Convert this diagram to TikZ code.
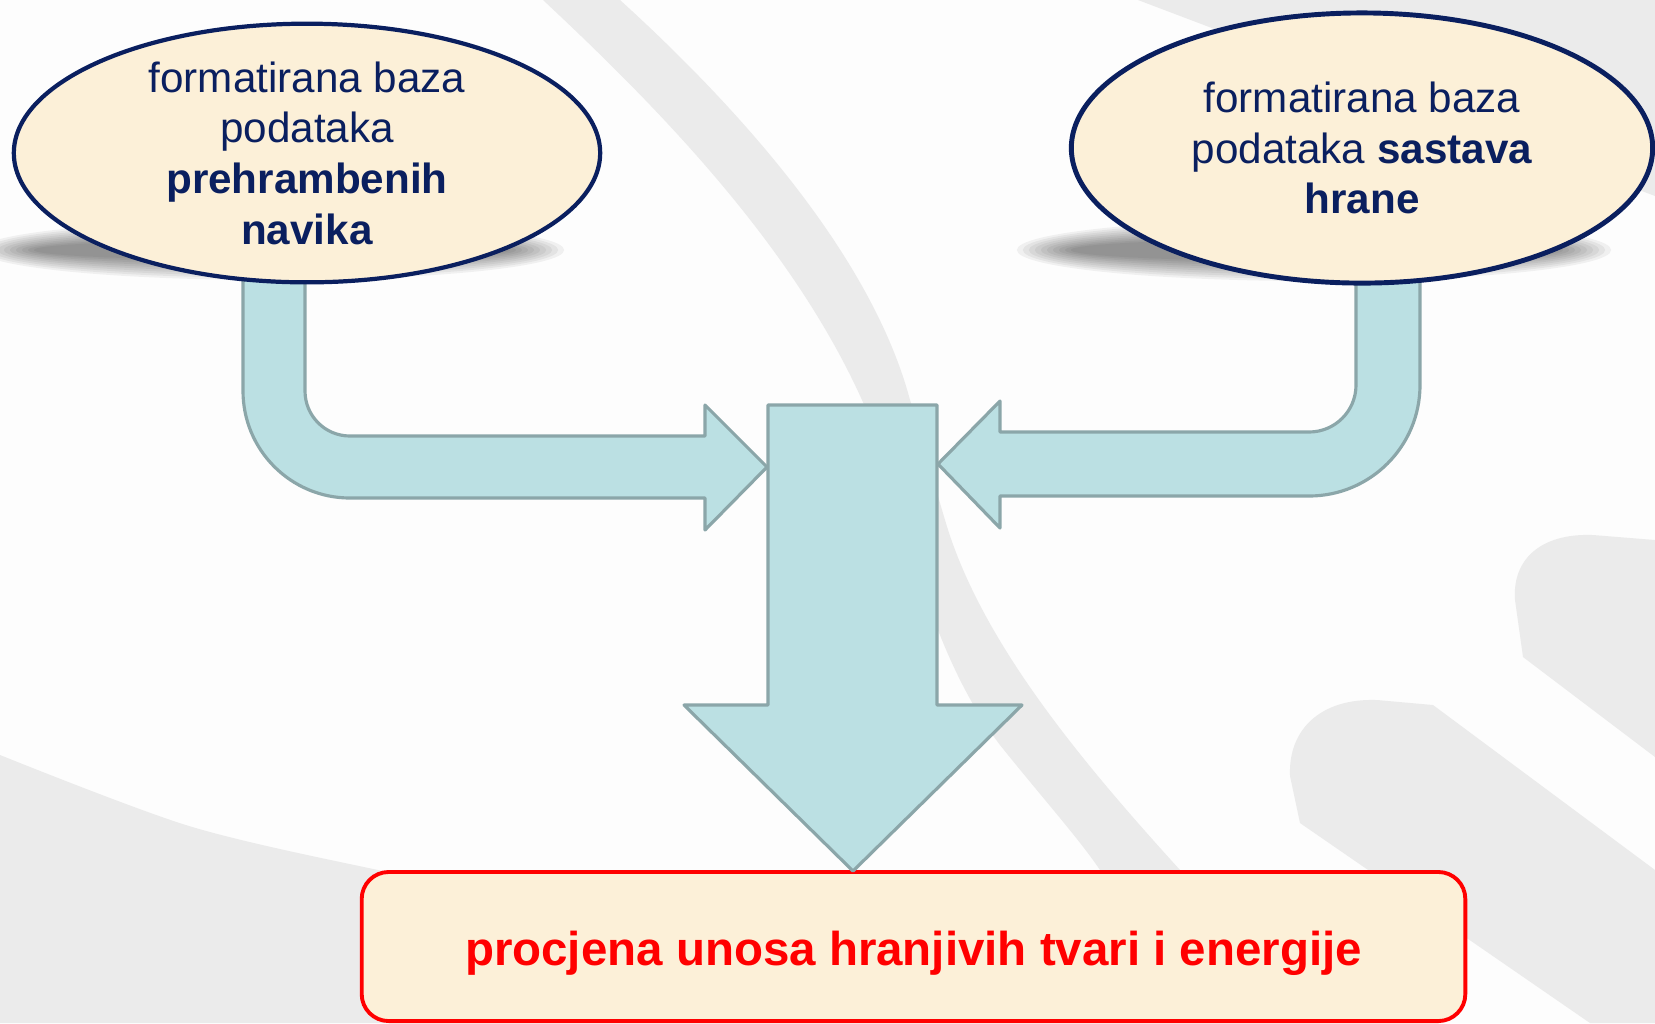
\documentclass[tikz,border=0pt]{standalone}
\usepackage{fontspec}
\setmainfont{Liberation Sans}
\usetikzlibrary{shapes.geometric}
\definecolor{navy}{HTML}{0A1F5F}
\definecolor{cream}{HTML}{FCF0D8}
\definecolor{wm}{HTML}{EBEBEB}
\definecolor{afill}{HTML}{BBE0E3}
\definecolor{aline}{HTML}{8BA6A9}
\definecolor{bg}{HTML}{FDFDFD}
\tikzset{
  blockarrow/.style={fill=afill, draw=aline, line width=0.9pt, line join=round},
  oval/.style={ellipse, draw=navy, fill=cream, line width=1.2pt, inner sep=0pt,
    align=center, text=navy, font=\fontsize{12}{14.4}\selectfont},
  resbox/.style={draw=red, fill=cream, line width=1.1pt, rounded corners=0.27cm,
    minimum width=11.03cm, minimum height=1.49cm, text=red,
    font=\fontsize{13.5}{16}\selectfont\bfseries},
  wmark/.style={fill=wm},
  shadowlayer/.style={fill=black, opacity=0.05},
}
\begin{document}
\begin{tikzpicture}[x=0.01cm, y=-0.01cm]
  % page
  \fill[bg] (0,0) rectangle (1655,1023);
  \useasboundingbox (0,0) rectangle (1655,1023);

  % watermark shapes
  \fill[wmark] (543,0) .. controls (650,100) and (790,240) .. (862,400)
     .. controls (900,485) and (920,640) .. (1000,745)
     .. controls (1040,795) and (1080,840) .. (1100,870)
     -- (1160,1023) -- (1320,1023) -- (1180,870)
     .. controls (1080,760) and (980,640) .. (945,520)
     .. controls (930,470) and (920,430) .. (910,400)
     .. controls (870,250) and (730,100) .. (620,0) -- cycle;
  \fill[wmark] plot[smooth] coordinates {(0,755) (189,826) (378,870) (560,905)} -- (560,1023) -- (0,1023) -- cycle;
  \fill[wmark] (1138,0) -- (1655,0) -- (1655,196) -- cycle;
  \fill[wmark] (1655,540) -- (1593,535) .. controls (1540,533) and (1512,560) .. (1515,600) -- (1523,657) -- (1655,757) -- cycle;
  \fill[wmark] (1433,705) -- (1377,700) .. controls (1320,698) and (1288,730) .. (1290,776) -- (1300,823) -- (1590,1023) -- (1655,1023) -- (1655,870) -- cycle;

  % shadows of the ovals
  \foreach \i in {0,...,9} {
    \fill[shadowlayer] (272,250) ellipse [x radius={2.92cm-0.06cm*\i}, y radius={0.30cm-0.022cm*\i}];
    \fill[shadowlayer] (1314,250) ellipse [x radius={2.97cm-0.06cm*\i}, y radius={0.31cm-0.022cm*\i}];
  }

  % bent block arrows
  \draw[blockarrow] (243,278) -- (305,278) -- (305,391)
     .. controls (305,415.9) and (325.1,436) .. (350,436)
     -- (705,436) -- (705,405) -- (767,467) -- (705,530) -- (705,498) -- (350,498)
     .. controls (290.9,498) and (243,450.1) .. (243,391) -- cycle;
  \draw[blockarrow] (1356,280) -- (1420,280) -- (1420,385)
     .. controls (1420,446.3) and (1370.3,496) .. (1309,496)
     -- (1000,496) -- (1000,528) -- (938,464) -- (1000,401) -- (1000,432) -- (1309,432)
     .. controls (1335,432) and (1356,411) .. (1356,385) -- cycle;

  % ovals
  \node[oval, minimum width=5.86cm, minimum height=2.54cm] (e1) at (307,153)
    {formatirana baza\\podataka\\\textbf{prehrambenih}\\\textbf{navika}};
  \node[oval, line width=1.4pt, minimum width=5.81cm, minimum height=2.70cm] (e2) at (1362,148)
    {formatirana baza\\podataka \textbf{sastava}\\\textbf{hrane}};

  % result box
  \node[resbox] (res) at (913.5,946.5) {\raisebox{-2pt}[\height][\depth]{procjena unosa hranjivih tvari i energije}};

  % central down arrow
  \draw[blockarrow] (768,405) -- (937,405) -- (937,705) -- (1022,705) -- (853,871)
     -- (684,705) -- (768,705) -- cycle;
\end{tikzpicture}
\end{document}
